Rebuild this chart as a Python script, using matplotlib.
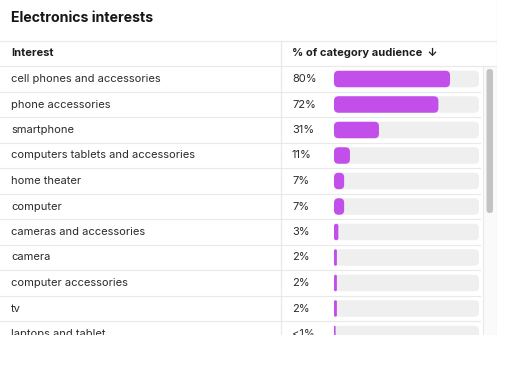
import matplotlib.pyplot as plt
from matplotlib.patches import FancyBboxPatch, Rectangle

# data
interests = ['cell phones and accessories', 'phone accessories', 'smartphone',
             'computers tablets and accessories', 'home theater', 'computer',
             'cameras and accessories', 'camera', 'computer accessories', 'tv',
             'laptops and tablet']
shares = [80, 72, 31, 11, 7, 7, 3, 2, 2, 2, 0.8]
share_labels = ['80%', '72%', '31%', '11%', '7%', '7%', '3%', '2%', '2%', '2%', '<1%']

FONT = ['Inter', 'DejaVu Sans']
BAR = '#c24fea'
TRACK = '#efefef'
LINE = '#e9e9e9'
W, H = 512, 377
PANEL_R, PANEL_B = 497, 335
ROW0, ROW_H = 79, 25.5

fig = plt.figure(figsize=(W / 100, H / 100), dpi=100)
fig.patch.set_facecolor('white')

# layout axes in pixel units (clips the cut-off last row)
ax = fig.add_axes([0, (H - PANEL_B) / H, PANEL_R / W, PANEL_B / H])
ax.set_xlim(0, PANEL_R)
ax.set_ylim(PANEL_B, 0)
ax.axis('off')

ax.text(11, 18, 'Electronics interests', fontsize=10.2, fontweight='bold',
        color='#161616', va='center', family=FONT)
ax.plot([0, PANEL_R], [40.5, 40.5], color=LINE, lw=0.9)
ax.plot([PANEL_R - 0.5, PANEL_R - 0.5], [0, PANEL_B], color=LINE, lw=0.9)
ax.plot([281, 281], [40.5, PANEL_B], color=LINE, lw=0.9)

ax.text(11, 53, 'Interest', fontsize=8, fontweight='bold', color='#1e1e1e',
        va='center', family=FONT)
ax.text(292, 53, '% of category audience  \u2193', fontsize=8, fontweight='bold',
        color='#1e1e1e', va='center', family=FONT)
ax.plot([0, PANEL_R], [65.5, 65.5], color=LINE, lw=0.9)

for i, (name, lab) in enumerate(zip(interests, share_labels)):
    y = ROW0 + i * ROW_H
    ax.text(11, y, name, fontsize=8, color='#2b2b2b', va='center',
            family=FONT, clip_on=True)
    ax.text(292, y, lab, fontsize=8, color='#2b2b2b', va='center',
            family=FONT, clip_on=True)
    ax.plot([0, 480], [y + ROW_H / 2, y + ROW_H / 2], color=LINE, lw=0.8)

# scroll track + thumb
ax.add_patch(Rectangle((483, 65.5), 14, PANEL_B - 65.5, facecolor='#fafafa',
                       edgecolor='none'))
ax.plot([483, 483], [65.5, PANEL_B], color=LINE, lw=0.8)
ax.add_patch(FancyBboxPatch((486.5, 69), 6.5, 144,
                            boxstyle='round,pad=0,rounding_size=3.2',
                            facecolor='#c3c3c3', edgecolor='none'))

# bar axes: percent scale on x, row index on y
bx_l, bx_r = 334, 479
top_px = ROW0 - ROW_H / 2
bottom_row = (PANEL_B - top_px) / ROW_H - 0.5
bx = fig.add_axes([bx_l / W, (H - PANEL_B) / H, (bx_r - bx_l) / W,
                   (PANEL_B - top_px) / H])
bx.set_xlim(0, 100)
bx.set_ylim(bottom_row, -0.5)
bx.axis('off')

x_per_px = 100 / (bx_r - bx_l)
y_per_px = 1 / ROW_H
aspect = y_per_px / x_per_px
bar_h = 16.5 * y_per_px
rad = 4.5 * x_per_px

for i, v in enumerate(shares):
    bx.add_patch(FancyBboxPatch((0, i - bar_h / 2), 100, bar_h,
                                boxstyle='round,pad=0,rounding_size=%f' % rad,
                                mutation_aspect=aspect, facecolor=TRACK,
                                edgecolor='none'))
    w = max(v, 1.6 * x_per_px)
    r = min(rad, w / 2)
    bx.add_patch(FancyBboxPatch((0, i - bar_h / 2), w, bar_h,
                                boxstyle='round,pad=0,rounding_size=%f' % r,
                                mutation_aspect=aspect, facecolor=BAR,
                                edgecolor='none'))

fig.savefig('out.png', dpi=100, facecolor='white')
